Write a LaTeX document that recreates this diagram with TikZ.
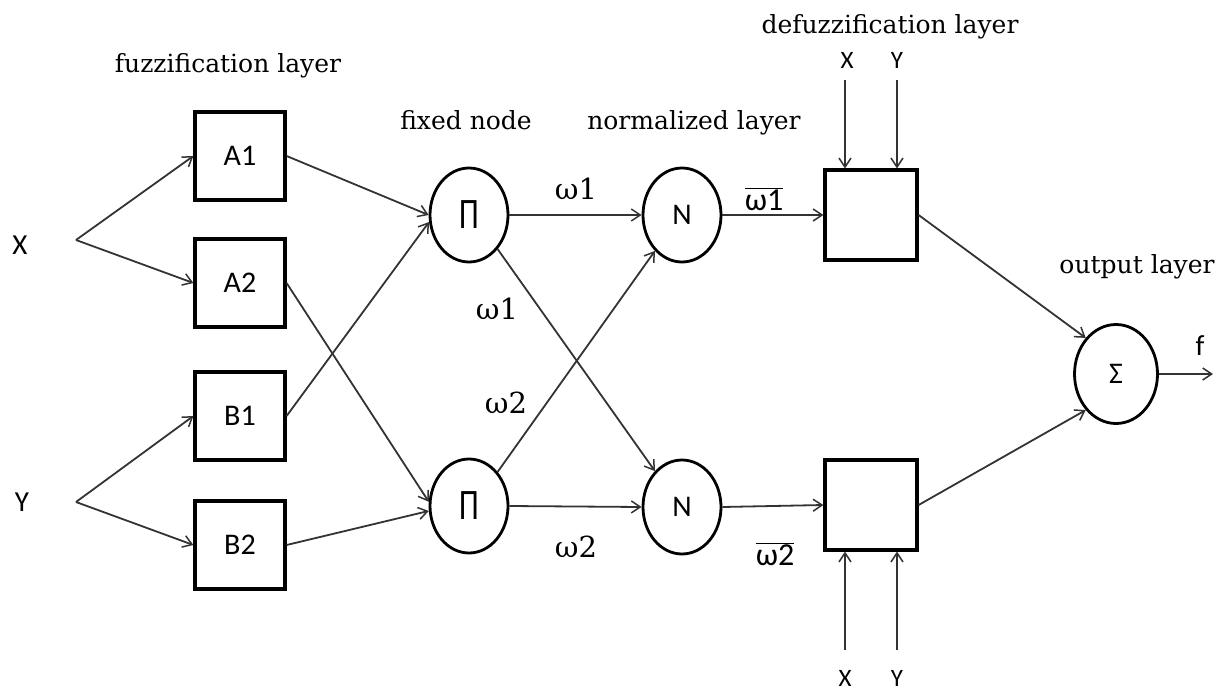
\documentclass[tikz,border=0pt]{standalone}
\usepackage{graphicx}
\usepackage{fontspec}
\setmainfont{DejaVu Serif}
\newfontfamily\sansf{Carlito}
\usetikzlibrary{shapes.geometric,arrows.meta}

% overlined weight label
\newcommand\wbar[1]{$\overline{\hbox{\sansf #1}}$}

\begin{document}
\begin{tikzpicture}[x=1pt,y=-1pt,
  conn/.style={draw=black!80,line width=1.8pt,-{Straight Barb[length=9pt,width=12pt,line width=1.5pt]}},
  box/.style={draw=black,line width=3.2pt,minimum width=90pt,minimum height=88pt,inner sep=0pt,
              font=\sansf\fontsize{30}{32}\selectfont},
  dbox/.style={draw=black,line width=3.2pt,minimum width=92pt,minimum height=90pt,inner sep=0pt},
  unit/.style={draw=black,line width=2.8pt,ellipse,minimum width=78pt,minimum height=94pt,inner sep=0pt,
               font=\sansf\fontsize{30}{32}\selectfont},
  layer/.style={anchor=base,inner sep=0pt,font=\fontsize{25}{28}\selectfont},
  wlab/.style={anchor=base,inner sep=0pt,font=\fontsize{29}{31}\selectfont},
  wbarlab/.style={anchor=base,inner sep=0pt,font=\sansf\fontsize{32}{34}\selectfont},
  inlab/.style={inner sep=0pt,font=\sansf\fontsize{29}{31}\selectfont},
  smlab/.style={inner sep=0pt,font=\sansf\fontsize{25}{27}\selectfont}]

\useasboundingbox (0,0) rectangle (1223,693);

% layer captions
\node[layer] (capfuzz) at (228,73) {fuzzification layer};
\node[layer] (capfix) at (466,129) {fixed node};
\node[layer] (capnorm) at (694,129) {normalized layer};
\node[layer] (capdef) at (890,34) {defuzzification layer};
\node[layer] (capout) at (1137,273) {output layer};

% inputs
\node[inlab] (inX) at (20,245) {X};
\node[inlab] (inY) at (22,502) {Y};
\coordinate (fx) at (76,240);
\coordinate (fy) at (76,502);

% fuzzification boxes
\node[box] (A1) at (240,156) {A1};
\node[box] (A2) at (240,283) {A2};
\node[box] (B1) at (240,416) {B1};
\node[box] (B2) at (240,545) {B2};

% product and normalisation units
\node[unit] (P1) at (469,215) {\scalebox{1.05}[1.45]{Π}};
\node[unit] (P2) at (469,506) {\scalebox{1.05}[1.45]{Π}};
\node[unit] (N1) at (682,215) {N};
\node[unit] (N2) at (682,507) {N};

% defuzzification boxes
\node[dbox] (D1) at (871,215) {};
\node[dbox] (D2) at (871,505) {};

% summation unit
\node[unit,minimum width=83pt,minimum height=99pt] (S) at (1116,374) {Σ};

% input fan-out
\draw[conn] (fx) -- (A1.west);
\draw[conn] (fx) -- (A2.west);
\draw[conn] (fy) -- (B1.west);
\draw[conn] (fy) -- (B2.west);

% rule firing
\draw[conn] (A1.east) -- (P1.west);
\draw[conn] (B1.east) -- (P1.190);
\draw[conn] (A2.east) -- (P2.174);
\draw[conn] (B2.east) -- (P2.187);

% firing strengths
\draw[conn] (P1.east) -- (N1.west);
\draw[conn] (P1.-50) -- (N2.127);
\draw[conn] (P2.50) -- (N1.-127);
\draw[conn] (P2.east) -- (N2.west);
\node[wlab] (w1a) at (576,199) {ω1};
\node[wlab] (w1b) at (497,319) {ω1};
\node[wlab] (w2a) at (506,413) {ω2};
\node[wlab] (w2b) at (576,557) {ω2};

% normalised strengths
\draw[conn] (N1.east) -- (D1.west);
\draw[conn] (N2.east) -- (D2.west);
\node[wbarlab] (wb1) at (764,210) {\wbar{ω1}};
\node[wbarlab] (wb2) at (775,565) {\wbar{ω2}};

% consequent inputs
\coordinate (tX) at (845,80);
\coordinate (tY) at (897,80);
\coordinate (bX) at (845,650);
\coordinate (bY) at (897,650);
\node[smlab] (lX1) at (847,60) {X};
\node[smlab] (lY1) at (897,60) {Y};
\node[smlab] (lX2) at (845,678) {X};
\node[smlab] (lY2) at (897,678) {Y};
\draw[conn] (tX) -- (tX |- D1.north);
\draw[conn] (tY) -- (tY |- D1.north);
\draw[conn] (bX) -- (bX |- D2.south);
\draw[conn] (bY) -- (bY |- D2.south);

% aggregation and output
\draw[conn] (D1.east) -- (S.130);
\draw[conn] (D2.east) -- (S.230);
\coordinate (fo) at (1213,374);
\draw[conn] (S.east) -- (fo);
\node[inlab] (fl) at (1200,346) {f};

\end{tikzpicture}
\end{document}
